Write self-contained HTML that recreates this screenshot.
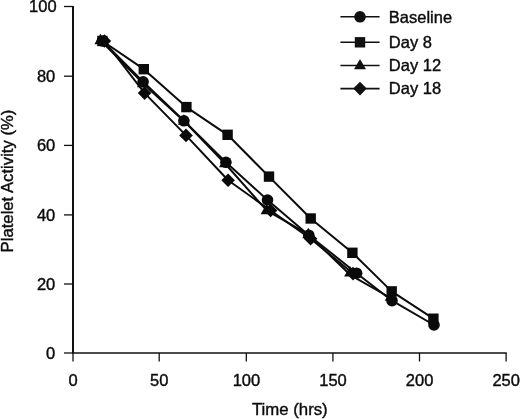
<!DOCTYPE html>
<html><head><meta charset="utf-8"><title>Platelet Activity</title>
<style>
html,body{margin:0;padding:0;background:#fff;}
body{width:520px;height:419px;overflow:hidden;font-family:"Liberation Sans",sans-serif;}
svg{display:block;filter:grayscale(1);}
text{font-family:"Liberation Sans",sans-serif;fill:#0c0c0c;stroke:#0c0c0c;stroke-width:0.4px;}
</style></head><body>
<svg width="520" height="419" viewBox="0 0 520 419">
<rect width="520" height="419" fill="#fff"/>

<g stroke="#111" stroke-width="2" fill="none">
<path d="M73.0,5.9 V353.8"/>
<path d="M73.0,353.0 H506.7" stroke-width="1.6"/>
</g><g stroke="#111" stroke-width="1.3" fill="none">
<path d="M64.0,353.0 H73.0"/>
<path d="M64.0,284.0 H73.0"/>
<path d="M64.0,214.9 H73.0"/>
<path d="M64.0,145.4 H73.0"/>
<path d="M64.0,76.2 H73.0"/>
<path d="M64.0,6.5 H73.0"/>
<path d="M73.0,353.0 V361.5"/>
<path d="M159.2,353.0 V361.5"/>
<path d="M246.3,353.0 V361.5"/>
<path d="M332.9,353.0 V361.5"/>
<path d="M419.5,353.0 V361.5"/>
<path d="M506.1,353.0 V361.5"/>
</g>
<g font-size="16.5" text-anchor="end">
<text x="55.3" y="358.7">0</text>
<text x="55.3" y="289.7">20</text>
<text x="55.3" y="220.6">40</text>
<text x="55.3" y="151.1">60</text>
<text x="55.3" y="81.9">80</text>
<text x="56.6" y="12.2">100</text>
</g><g font-size="16.5" text-anchor="middle">
<text x="73.1" y="385.8">0</text>
<text x="159.3" y="385.8">50</text>
<text x="246.4" y="385.8">100</text>
<text x="333.0" y="385.8">150</text>
<text x="419.6" y="385.8">200</text>
<text x="506.2" y="385.8">250</text>
</g>
<text font-size="16.8" text-anchor="middle" x="289.8" y="415">Time (hrs)</text>
<text font-size="16.7" text-anchor="middle" transform="translate(12.7,181.0) rotate(-90)">Platelet Activity (%)</text>
<g stroke="#0c0c0c" stroke-width="2" fill="none" stroke-linejoin="round">
<polyline points="104.4,41.0 144.6,93.1 186.0,135.4 228.1,180.3 270.6,210.5 310.6,238.7 353.0,273.6"/>
<polyline points="100.4,40.4 143.0,83.4 183.9,120.9 225.0,163.5 266.6,210.4 308.3,234.4 350.1,274.8 390.7,298.0"/>
<polyline points="102.4,41.0 143.8,69.2 186.4,107.1 227.6,134.8 269.0,176.6 310.7,218.5 352.4,252.8 391.7,291.4 433.4,318.7"/>
<polyline points="102.4,41.0 143.1,81.8 183.9,120.8 225.9,162.3 267.5,200.0 308.8,235.2 356.6,273.2 392.0,300.7 434.0,325.0"/>
</g><g fill="#0a0a0a">
<path d="M104.4,34.2 L111.2,41.0 L104.4,47.8 L97.6,41.0 Z"/>
<path d="M144.6,86.3 L151.4,93.1 L144.6,99.9 L137.8,93.1 Z"/>
<path d="M186.0,128.6 L192.8,135.4 L186.0,142.2 L179.2,135.4 Z"/>
<path d="M228.1,173.5 L234.9,180.3 L228.1,187.1 L221.3,180.3 Z"/>
<path d="M270.6,203.7 L277.4,210.5 L270.6,217.3 L263.8,210.5 Z"/>
<path d="M310.6,231.9 L317.4,238.7 L310.6,245.5 L303.8,238.7 Z"/>
<path d="M353.0,266.8 L359.8,273.6 L353.0,280.4 L346.2,273.6 Z"/>
<path d="M100.4,33.8 L106.4,44.2 L94.4,44.2 Z"/>
<path d="M143.0,76.8 L149.0,87.2 L137.0,87.2 Z"/>
<path d="M183.9,114.3 L189.9,124.7 L177.9,124.7 Z"/>
<path d="M225.0,156.9 L231.0,167.3 L219.0,167.3 Z"/>
<path d="M266.6,203.8 L272.6,214.2 L260.6,214.2 Z"/>
<path d="M308.3,227.8 L314.3,238.2 L302.3,238.2 Z"/>
<path d="M350.1,266.2 L356.1,276.6 L344.1,276.6 Z"/>
<path d="M390.7,290.4 L396.7,300.8 L384.7,300.8 Z"/>
<rect x="97.2" y="35.8" width="10.4" height="10.4"/>
<rect x="138.6" y="64.0" width="10.4" height="10.4"/>
<rect x="181.2" y="101.9" width="10.4" height="10.4"/>
<rect x="222.4" y="129.6" width="10.4" height="10.4"/>
<rect x="263.8" y="171.4" width="10.4" height="10.4"/>
<rect x="305.5" y="213.3" width="10.4" height="10.4"/>
<rect x="347.2" y="247.6" width="10.4" height="10.4"/>
<rect x="386.5" y="286.2" width="10.4" height="10.4"/>
<rect x="428.2" y="313.5" width="10.4" height="10.4"/>
<circle cx="102.4" cy="41.0" r="5.8"/>
<circle cx="143.1" cy="81.8" r="5.8"/>
<circle cx="183.9" cy="120.8" r="5.8"/>
<circle cx="225.9" cy="162.3" r="5.8"/>
<circle cx="267.5" cy="200.0" r="5.8"/>
<circle cx="308.8" cy="235.2" r="5.8"/>
<circle cx="356.6" cy="273.2" r="5.8"/>
<circle cx="392.0" cy="300.7" r="5.8"/>
<circle cx="434.0" cy="325.0" r="5.8"/>
</g>
<g>
<path d="M340.4,16.8 H379.6" stroke="#111" stroke-width="1.6"/>
<g fill="#111"><circle cx="360.0" cy="16.8" r="5.8"/></g>
<text font-size="16.5" x="388.8" y="22.5">Baseline</text>
<path d="M340.4,42.3 H379.6" stroke="#111" stroke-width="1.6"/>
<g fill="#111"><rect x="354.8" y="37.1" width="10.4" height="10.4"/></g>
<text font-size="16.5" x="388.8" y="48.0">Day 8</text>
<path d="M340.4,65.5 H379.6" stroke="#111" stroke-width="1.6"/>
<g fill="#111"><path d="M360.0,58.9 L366.0,69.3 L354.0,69.3 Z"/></g>
<text font-size="16.5" x="388.8" y="71.2">Day 12</text>
<path d="M340.4,88.6 H379.6" stroke="#111" stroke-width="1.6"/>
<g fill="#111"><path d="M360.0,81.8 L366.8,88.6 L360.0,95.4 L353.2,88.6 Z"/></g>
<text font-size="16.5" x="388.8" y="94.3">Day 18</text>
</g>
</svg></body></html>
